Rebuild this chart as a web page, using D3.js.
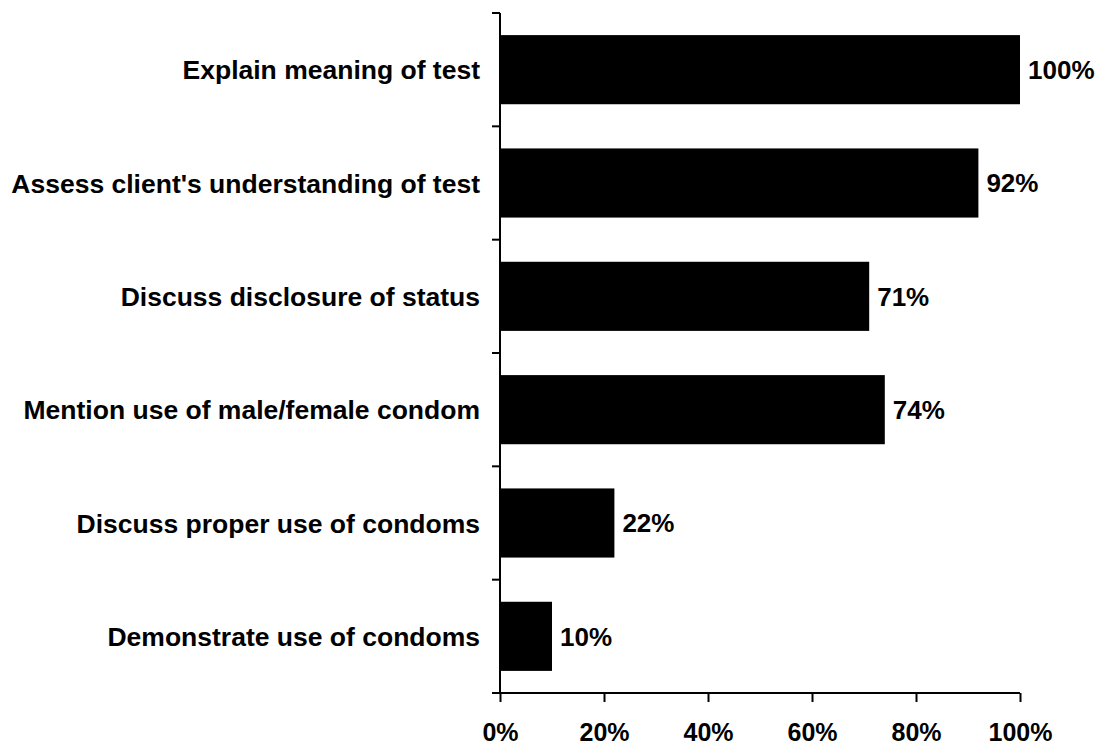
<!DOCTYPE html>
<html>
<head>
<meta charset="utf-8">
<script src="https://cdn.jsdelivr.net/npm/d3@7"></script>
<style>
body { margin:0; background:#fff; }
svg { display:block; font-family: Arial, "Liberation Sans", sans-serif; }
</style>
</head>
<body>
<svg id="chart" width="1098" height="747"></svg>
<script>
const categories = [
  "Explain meaning of test",
  "Assess client's understanding of test",
  "Discuss disclosure of status",
  "Mention use of male/female condom",
  "Discuss proper use of condoms",
  "Demonstrate use of condoms"
];
const values = [100, 92, 71, 74, 22, 10];
const xTicks = [0, 20, 40, 60, 80, 100];

const svg = d3.select("#chart");
const mLeft = 500, mRight = 1020, mTop = 13, mBottom = 693;

const x = d3.scaleLinear().domain([0, 100]).range([mLeft, mRight]);
const y = d3.scaleBand().domain(categories).range([mTop, mBottom])
  .paddingInner(0.39).paddingOuter(0.195);

const data = categories.map((c, i) => ({ cat: c, v: values[i] }));

svg.selectAll("rect.bar").data(data).join("rect")
  .attr("class", "bar")
  .attr("x", x(0))
  .attr("y", d => y(d.cat))
  .attr("width", d => x(d.v) - x(0))
  .attr("height", y.bandwidth())
  .attr("fill", "#000");

svg.selectAll("text.val").data(data).join("text")
  .attr("class", "val")
  .attr("x", d => x(d.v) + 8)
  .attr("y", d => y(d.cat) + y.bandwidth() / 2)
  .attr("dy", "0.36em")
  .attr("font-size", 26)
  .attr("font-weight", "bold")
  .text(d => d.v + "%");

// category labels
svg.selectAll("text.cat").data(categories).join("text")
  .attr("class", "cat")
  .attr("x", mLeft - 20)
  .attr("y", d => y(d) + y.bandwidth() / 2)
  .attr("dy", "0.36em")
  .attr("text-anchor", "end")
  .attr("font-size", 26.5)
  .attr("font-weight", "bold")
  .text(d => d);

// y axis with ticks at band boundaries
const step = y.step();
const boundaries = d3.range(categories.length + 1).map(i => mTop + i * step);
svg.append("line").attr("x1", mLeft).attr("x2", mLeft)
  .attr("y1", mTop).attr("y2", mBottom)
  .attr("stroke", "#000").attr("stroke-width", 2);
svg.selectAll("line.ytick").data(boundaries).join("line")
  .attr("class", "ytick")
  .attr("x1", mLeft - 8).attr("x2", mLeft)
  .attr("y1", d => d).attr("y2", d => d)
  .attr("stroke", "#000").attr("stroke-width", 2);

// x axis
const xAxis = d3.axisBottom(x).tickValues(xTicks).tickFormat(d => d + "%")
  .tickSize(9).tickPadding(21).tickSizeOuter(0);
const gx = svg.append("g").attr("transform", `translate(0,${mBottom})`).call(xAxis);
gx.select(".domain").attr("stroke", "#000").attr("stroke-width", 2)
  .attr("d", `M${mLeft - 8},0H${mRight}`);
gx.selectAll(".tick line").attr("stroke", "#000").attr("stroke-width", 2);
gx.selectAll(".tick text").attr("font-size", 25).attr("font-weight", "bold")
  .attr("fill", "#000").attr("font-family", "Arial, 'Liberation Sans', sans-serif");
</script>
</body>
</html>
